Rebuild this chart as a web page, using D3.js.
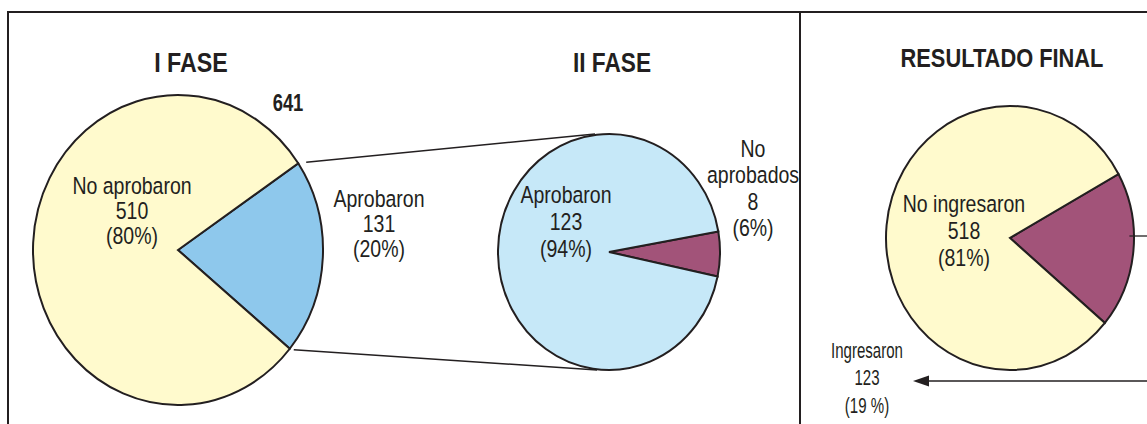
<!DOCTYPE html>
<html>
<head>
<meta charset="utf-8">
<script src="https://cdn.jsdelivr.net/npm/d3@7"></script>
<style>
  body { margin: 0; background: #fff; }
  svg text { font-family: "Liberation Sans", Arial, sans-serif; fill: #231f20; }
</style>
</head>
<body>
<div id="chart"></div>
<script>
// data
var fase1 = [
  { name: "Aprobaron", value: 131, pct: "20%" },
  { name: "No aprobaron", value: 510, pct: "80%" }
];
var fase2 = [
  { name: "No aprobados", value: 8, pct: "6%" },
  { name: "Aprobaron", value: 123, pct: "94%" }
];
var final = [
  { name: "Ingresaron", value: 123, pct: "19 %" },
  { name: "No ingresaron", value: 518, pct: "81%" }
];
var titles = ["I FASE", "II FASE", "RESULTADO FINAL"];
var total = 641;

var width = 1147, height = 424;
var deg = Math.PI / 180;
var ink = "#231f20";

var colors = {
  "I FASE": { "Aprobaron": "#8ec8ec", "No aprobaron": "#fffacd" },
  "II FASE": { "Aprobaron": "#c6e8f8", "No aprobados": "#a25379" },
  "RESULTADO FINAL": { "Ingresaron": "#a25379", "No ingresaron": "#fffacd" }
};

var svg = d3.select("#chart").append("svg")
  .attr("width", width)
  .attr("height", height);

// frame
svg.append("path")
  .attr("d", "M8,430 V12 H1160")
  .attr("fill", "none").attr("stroke", ink).attr("stroke-width", 2);
svg.append("line")
  .attr("x1", 800).attr("x2", 800).attr("y1", 12).attr("y2", 430)
  .attr("stroke", ink).attr("stroke-width", 2);

// ellipse pies: circle of radius rx squashed/stretched to ry
function drawPie(data, title, cx, cy, rx, ry, start) {
  var pie = d3.pie().sort(null).value(d => d.value)
    .startAngle(start * deg).endAngle(start * deg + 2 * Math.PI);
  var arc = d3.arc().innerRadius(0).outerRadius(rx);
  var arcs = pie(data);
  var g = svg.append("g")
    .attr("transform", "translate(" + cx + "," + cy + ") scale(1," + (ry / rx) + ")");
  g.selectAll("path")
    .data(arcs)
    .join("path")
    .attr("d", arc)
    .attr("fill", d => colors[title][d.data.name])
    .attr("stroke", ink)
    .attr("stroke-width", 2)
    .attr("stroke-linejoin", "miter")
    .attr("vector-effect", "non-scaling-stroke");
  // point on ellipse at a d3 angle
  arcs.pt = function (a) {
    return [cx + rx * Math.sin(a), cy - ry * Math.cos(a)];
  };
  return arcs;
}

// condensed text: squeeze horizontally, the original uses a narrow face
function label(x, y, lines, size, lh, sx, bold) {
  var t = svg.append("text")
    .attr("transform", "translate(" + x + "," + y + ") scale(" + (sx || 0.83) + ",1)")
    .attr("text-anchor", "middle")
    .attr("font-size", size)
    .attr("font-weight", bold ? "bold" : null);
  lines.forEach(function (s, i) {
    t.append("tspan").attr("x", 0).attr("y", i * lh).text(s);
  });
  return t;
}

// I FASE
var p1 = drawPie(fase1, titles[0], 178, 250, 145, 155, 56);
label(191, 72, [titles[0]], 28, 0, 0.83, true);
label(288, 111, [total], 23, 0, 0.8, true);
var a1 = fase1[1], b1 = fase1[0];
label(132, 194, [a1.name, a1.value, "(" + a1.pct + ")"], 23.5, 25);
label(379, 207, [b1.name, b1.value, "(" + b1.pct + ")"], 23.5, 25);

// II FASE
var p2 = drawPie(fase2, titles[1], 609, 252, 111, 118, 80);
label(612, 72, [titles[1]], 28, 0, 0.81, true);
var a2 = fase2[1], b2 = fase2[0];
label(566, 203, [a2.name, a2.value, "(" + a2.pct + ")"], 23.5, 27);
label(753, 157, ["No", "aprobados", b2.value, "(" + b2.pct + ")"], 23.5, 26.5);

// zoom lines from the I FASE slice to the II FASE pie
var up = p1.pt(p1[0].startAngle), dn = p1.pt(p1[0].endAngle);
svg.append("line")
  .attr("x1", up[0] + 8).attr("y1", up[1] - 1)
  .attr("x2", 595).attr("y2", 252 - 118)
  .attr("stroke", ink).attr("stroke-width", 1.5);
svg.append("line")
  .attr("x1", dn[0] + 4).attr("y1", dn[1] + 1)
  .attr("x2", 597).attr("y2", 252 + 118)
  .attr("stroke", ink).attr("stroke-width", 1.5);

// RESULTADO FINAL
var p3 = drawPie(final, titles[2], 1010, 238, 124, 132, 61);
label(1002, 67, [titles[2]], 26, 0, 0.84, true);
var a3 = final[1], b3 = final[0];
label(964, 212, [a3.name, a3.value, "(" + a3.pct + ")"], 23.5, 27);
label(867, 358, [b3.name, b3.value, "(" + b3.pct + ")"], 21.5, 27.5, 0.7);

// leader + arrow for Ingresaron
var mid = (p3[0].startAngle + p3[0].endAngle) / 2;
var m = p3.pt(mid);
svg.append("line")
  .attr("x1", m[0] - 4).attr("y1", 236).attr("x2", width + 5).attr("y2", 236)
  .attr("stroke", ink).attr("stroke-width", 1.3);
svg.append("line")
  .attr("x1", width + 5).attr("y1", 381).attr("x2", 925).attr("y2", 381)
  .attr("stroke", ink).attr("stroke-width", 1.3);
svg.append("path")
  .attr("d", "M913,381 L929,375.5 L929,386.5 Z")
  .attr("fill", ink);
</script>
</body>
</html>
